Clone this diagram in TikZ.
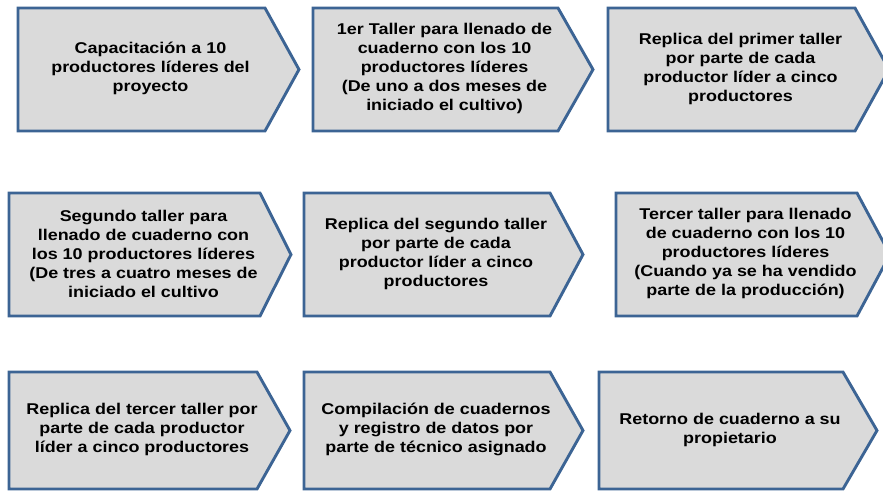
\documentclass[tikz,border=0pt]{standalone}
\usepackage{fontspec}
\setmainfont{Liberation Sans}[FakeStretch=1.15]
\definecolor{chevborder}{RGB}{60,100,148}
\definecolor{chevfill}{RGB}{218,218,218}
\newcommand\chevbox[7]{%
  \draw[chev] (#2,#3) -- (#4,#3) -- (#5,{(#3+#6)/2}) -- (#4,#6) -- (#2,#6) -- cycle;
  \node[lbl] (#1) at ({(#2+#4)/2+9},{(#3+#6)/2-1}) {#7};
}
\begin{document}
\begin{tikzpicture}[x=1pt,y=-1pt,
  chev/.style={draw=chevborder, fill=chevfill, line width=2.9pt, line join=miter},
  lbl/.style={align=center, font=\bfseries\fontsize{15.6}{19}\selectfont, text=black, inner sep=0pt}]
\useasboundingbox (0,0) rectangle (883,491);
\clip (0,0) rectangle (883,491);
\chevbox{s1}{18}{8}{265}{299}{131}{Capacitación a 10\\productores líderes del\\proyecto}
\chevbox{s2}{313}{8}{558}{593}{131}{1er Taller para llenado de\\cuaderno con los 10\\productores líderes\\(De uno a dos meses de\\iniciado el cultivo)}
\chevbox{s3}{608}{8}{855}{889}{131}{Replica del primer taller\\por parte de cada\\productor líder a cinco\\productores}
\chevbox{s4}{9}{193}{260}{291}{316}{Segundo taller para\\llenado de cuaderno con\\los 10 productores líderes\\(De tres a cuatro meses de\\iniciado el cultivo}
\chevbox{s5}{304}{193}{550}{583}{316}{Replica del segundo taller\\por parte de cada\\productor líder a cinco\\productores}
\chevbox{s6}{616}{193}{857}{890}{316}{Tercer taller para llenado\\de cuaderno con los 10\\productores líderes\\(Cuando ya se ha vendido\\parte de la producción)}
\chevbox{s7}{9}{372}{257}{290}{489}{Replica del tercer taller por\\parte de cada productor\\líder a cinco productores}
\chevbox{s8}{304}{372}{550}{583}{489}{Compilación de cuadernos\\y registro de datos por\\parte de técnico asignado}
\chevbox{s9}{599}{372}{843}{877}{489}{Retorno de cuaderno a su\\propietario}
\end{tikzpicture}
\end{document}
